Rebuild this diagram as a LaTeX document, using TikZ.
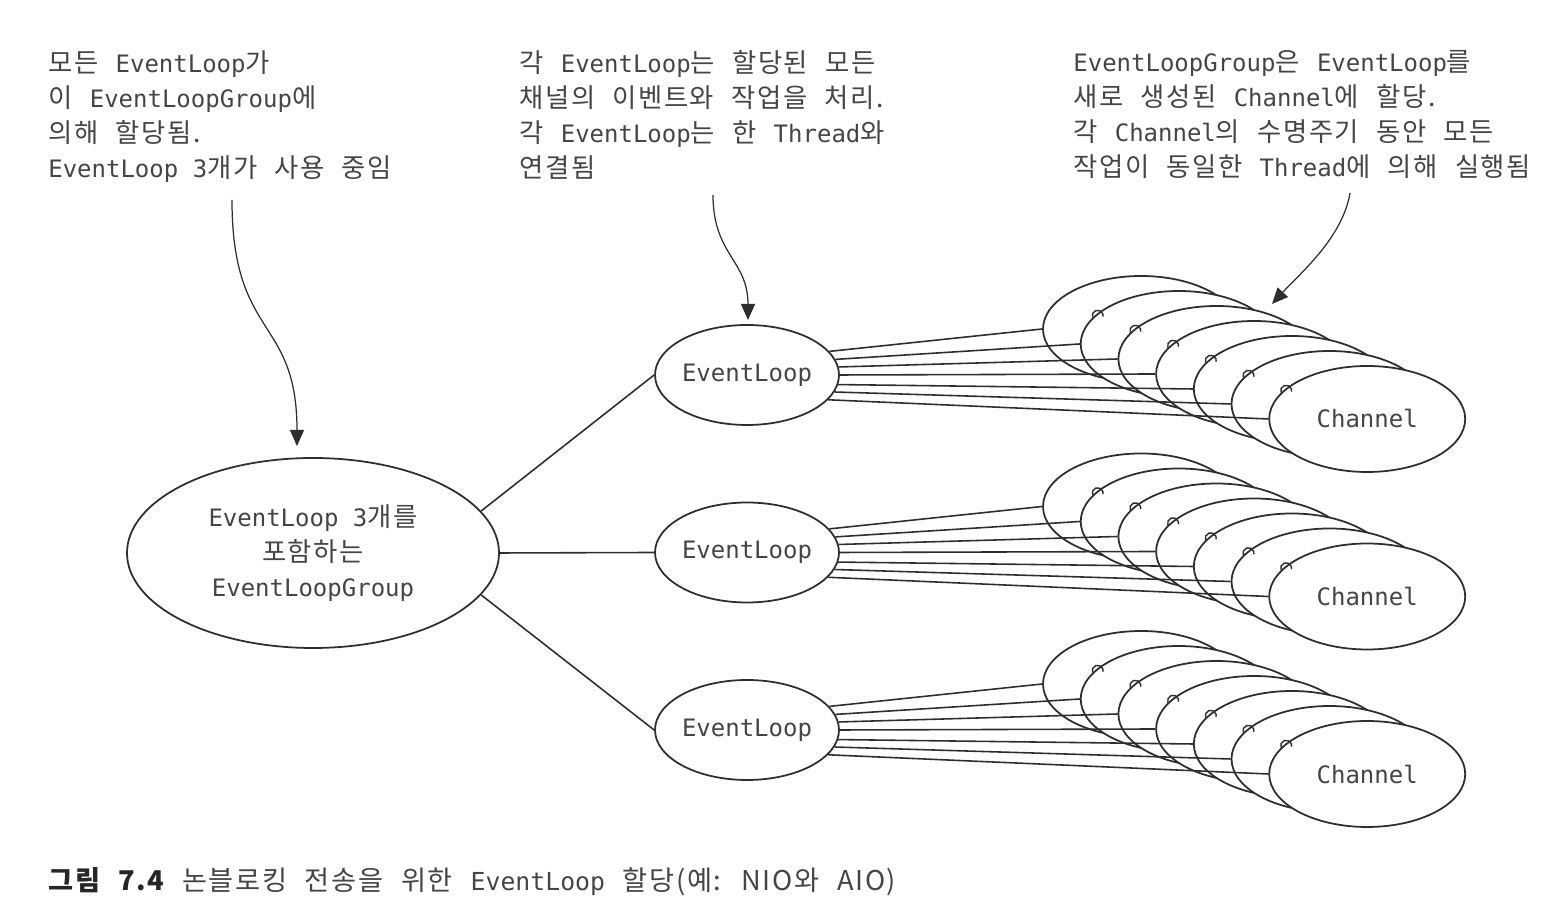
\documentclass[tikz,border=0pt]{standalone}
\usepackage{fontspec}
\setmainfont{Noto Sans CJK KR}[WordSpace=2.3, LetterSpace=6]
\setmonofont{DejaVu Sans Mono}[Scale=0.91]
\usepackage{xcolor}
\usetikzlibrary{positioning,arrows.meta,shapes.geometric}
\definecolor{ink}{HTML}{2E2E2E}
\definecolor{txt}{HTML}{454545}
\newcommand{\tx}[1]{{\ttfamily#1}}
\newcommand{\notefont}{\fontsize{15}{19.9}\selectfont}

\begin{document}
\begin{tikzpicture}[
  oval/.style={draw=ink, ellipse, line width=1pt, fill=white, inner sep=0pt,
               font=\notefont, text=txt, align=center},
  group/.style={oval, minimum width=7.44cm, minimum height=3.8cm},
  elnode/.style={oval, minimum width=3.68cm, minimum height=2cm},
  chan/.style={oval, minimum width=3.92cm, minimum height=2.12cm},
  wire/.style={draw=ink, line width=0.9pt},
  note/.style={font=\notefont, text=txt, align=left, anchor=north west, inner sep=0pt},
  callout/.style={draw=ink, line width=0.7pt, -{Triangle[length=3.2mm, width=2.8mm]}},
]
\useasboundingbox (0,0) rectangle (31.24,18.4);

% ====== notes (top) ======
\node[note] (n1) at (0.96, 17.4) {모든 \tx{EventLoop}가\\
  이 \tx{EventLoopGroup}에\\
  의해 할당됨.\\
  \tx{EventLoop 3}개가 사용 중임};
\node[note] (n2) at (10.38, 17.4) {각 \tx{EventLoop}는 할당된 모든\\
  채널의 이벤트와 작업을 처리.\\
  각 \tx{EventLoop}는 한 \tx{Thread}와\\
  연결됨};
\node[note] (n3) at (21.46, 17.4) {\tx{EventLoopGroup}은 \tx{EventLoop}를\\
  새로 생성된 \tx{Channel}에 할당.\\
  각 \tx{Channel}의 수명주기 동안 모든\\
  작업이 동일한 \tx{Thread}에 의해 실행됨};

% ====== group and loops ======
\node[group]  (grp) at (6.26, 7.34) {\tx{EventLoop 3}개를\\포함하는\\\tx{EventLoopGroup}};
\node[elnode] (el1) at (14.94, 10.9) {\tx{EventLoop}};
\node[elnode] (el2) at (14.94, 7.35) {\tx{EventLoop}};
\node[elnode] (el3) at (14.94, 3.8)  {\tx{EventLoop}};
\draw[wire] (grp.14) -- (el1.west);
\draw[wire] (grp.east) -- (el2.west);
\draw[wire] (grp.-14) -- (el3.west);

% ====== channel stacks ======
\foreach \r in {1,2,3} {
  \foreach \k in {0,...,6}
    \node[chan] (ch\r\k) at ({22.82+0.754*\k}, {11.82-3.55*(\r-1)-0.3*\k})
      {\ifnum\k=6 \tx{Channel}\fi};
  \foreach \k [evaluate=\k as \a using 16-5.5*\k] in {0,...,6}
    \draw[wire] (el\r.\a) -- (ch\r\k.west);
  \foreach \k in {1,...,6}
    \draw[ink, line width=0.8pt] (ch\r\k.163) arc[start angle=200, end angle=-10, radius=0.11];
}

% ====== callouts ======
\coordinate (c1a) at (4.64, 14.40);
\coordinate (c1b) at (5.94, 9.48);
\coordinate (c2a) at (14.26, 14.50);
\coordinate (c2b) at (14.96, 12.00);
\coordinate (c3a) at (27.00, 14.54);
\coordinate (c3b) at (25.44, 12.32);
\draw[callout] (c1a) .. controls +(0,-2.8) and +(0,2.6) .. (c1b);
\draw[callout] (c2a) .. controls +(0,-1.2) and +(0,1.2) .. (c2b);
\draw[callout] (c3a) .. controls +(-0.15,-0.9) and +(0.55,0.6) .. (c3b);

% caption
\node[anchor=west, inner sep=0pt, font=\fontsize{15.5}{18}\selectfont, text=txt] (cap) at (0.96, 0.76)
  {{\bfseries\color{black!85}그림 7.4} 논블로킹 전송을 위한 \tx{EventLoop} 할당(예: NIO와 AIO)};
\end{tikzpicture}
\end{document}
